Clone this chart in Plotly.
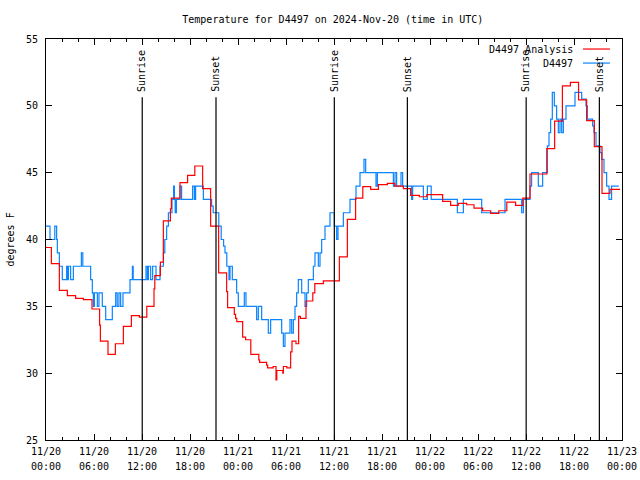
import plotly.graph_objects as go

# hours since 2024-11-20 00:00 UTC
red_hours = [0, 0.67, 1.67, 2.67, 3.7, 4.67, 5.75, 6.7, 6.8, 7.75, 8.67, 9.67, 10.67, 11.67, 12.6, 13.5, 13.6,
             14.3, 14.67, 15.55, 15.67, 16.75, 17.7, 18.6, 19.58, 20.58, 21.58, 22.58, 22.7, 23.54, 23.7, 23.85,
             24.58, 24.95, 25.6, 26.6, 26.7, 27.58, 27.7, 28.4, 28.75, 28.85, 29.6, 29.67, 30.1, 30.58, 30.75,
             31.25, 31.58, 31.8, 32.5, 33.35, 33.6, 34.67, 36.67, 37.67, 38.7, 39.6, 40.58, 41.55, 42.67, 43.6,
             44.67, 45.58, 46.67, 47.6, 49.58, 50.58, 51.54, 52.58, 53.5, 54.58, 55.58, 56.6, 57.6, 58.7, 59.6,
             60.5, 62.6, 63.58, 64.55, 65.55, 66.57, 67.58, 68.54, 69.5, 70.5, 71.75]
red_temps = [39.4, 38.2, 36.2, 35.8, 35.6, 35.5, 34.8, 33.6, 32.4, 31.4, 32.2, 33.5, 34.3, 34.2, 35.0, 36.3, 37.3,
             38.3, 41.4, 42.3, 43.1, 44.25, 44.8, 45.5, 43.8, 41.0, 37.5, 36.1, 34.9, 34.4, 34.1, 33.85,
             32.7, 32.5, 31.4, 31.0, 30.8, 30.6, 30.4, 30.5, 29.5, 30.2, 30.0, 30.5, 30.4, 31.6, 32.4,
             32.2, 34.25, 34.1, 35.4, 36.0, 36.7, 36.9, 38.7, 41.5, 43.1, 43.95, 43.75, 44.1, 44.2, 44.0,
             43.8, 43.3, 43.2, 43.35, 42.85, 42.55, 42.7, 42.6, 42.35, 42.15, 41.95, 42.15, 42.8, 42.55, 43.1,
             44.9, 46.8, 48.85, 51.5, 51.75, 50.45, 48.9, 46.95, 43.45, 43.75, 43.75]

blue_hours = [0, 0.5, 1.1, 1.33, 1.42, 1.67, 2.04, 2.58, 2.7, 2.8, 3.08, 3.42, 4.42, 4.6, 5.58, 5.79, 5.92, 6.05,
              6.42, 6.62, 7.04, 7.46, 8.29, 8.71, 8.9, 9.12, 9.33, 9.62, 10.5, 10.8, 10.9, 12.5, 12.67, 12.8,
              13.08, 13.33, 13.75, 14.25, 14.67, 14.85, 15.08, 15.3, 15.75, 15.95, 16.05, 16.15, 16.3, 16.75,
              16.95, 18.33, 18.55, 18.7, 19.67, 20.7, 20.9, 21.6, 21.9, 22.2, 22.375, 22.6, 22.875, 23.0, 23.29,
              23.83, 24.04, 24.79, 25.0, 26.33, 26.54, 26.96, 27.79, 28.08, 29.46, 29.67, 29.875, 30.5, 30.71,
              30.92, 31.125, 31.33, 31.54, 31.96, 32.375, 32.58, 32.79, 33.42, 33.625, 34.04, 34.25, 34.46,
              34.875, 35.5, 36.04, 36.33, 36.5, 37.17, 38.0, 38.75, 39.25, 39.75, 39.96, 41.25, 41.42, 43.42,
              43.625, 43.83, 44.375, 44.58, 45.71, 45.83, 47.17, 47.67, 48.15, 51.42, 52.17, 54.46, 57.375,
              59.46, 59.67, 60.5, 60.7, 61.54, 62.08, 62.67, 62.875, 63.08, 63.29, 63.54, 63.83, 64.04, 64.25,
              64.46, 64.67, 65.0, 66.125, 66.96, 67.5, 67.67, 68.33, 68.5, 68.75, 69.25, 69.46, 69.75, 70.08,
              70.375, 70.7, 71.6]
blue_temps = [41, 40, 41, 40, 39, 38, 37, 38, 37, 38, 37, 38, 39, 38, 37, 36, 35, 36,
              35, 36, 35, 34, 35, 36, 35, 36, 35, 36, 37, 38, 37, 38, 37, 38,
              37, 38, 37, 38, 39, 40, 41, 42, 43, 44, 43, 42, 43, 44,
              43, 44, 43, 44, 43, 42.5, 42, 41, 40, 39.5, 39, 38, 37, 38, 37,
              36, 35, 36, 35, 34, 35, 34, 33, 34, 33, 32, 33, 34, 33,
              34, 35, 36, 37, 36, 35, 36, 37, 38, 39, 38, 39, 40,
              41, 42, 41, 40, 41, 42, 43, 44, 45, 46, 45, 44, 45, 44,
              45, 44, 45, 44, 43, 44, 43, 44, 43, 42, 43, 42, 43,
              42, 43, 44, 45, 44, 45, 47, 48, 49, 51, 50, 49, 48, 49,
              48, 49, 50, 51, 50.5, 50, 49, 48.5, 48, 47, 46.5, 46, 45, 44,
              43, 44, 44]

sunrise_hours = [12.03, 36.04, 60.02]
sunset_hours = [21.25, 45.17, 69.17]

tick_hours = [0, 6, 12, 18, 24, 30, 36, 42, 48, 54, 60, 66, 72]
tick_dates = ["11/20", "11/20", "11/20", "11/20", "11/21", "11/21", "11/21", "11/21",
              "11/22", "11/22", "11/22", "11/22", "11/23"]
tick_times = ["00:00", "06:00", "12:00", "18:00", "00:00", "06:00", "12:00", "18:00",
              "00:00", "06:00", "12:00", "18:00", "00:00"]
y_ticks = [25, 30, 35, 40, 45, 50, 55]

FONT = "DejaVu Sans Mono"
RED = "#ff0000"
BLUE = "#0a84ff"

fig = go.Figure()
fig.add_trace(go.Scatter(x=red_hours, y=red_temps, mode="lines", line=dict(color=RED, width=1.2, shape="hv"),
                         name="D4497 Analysis", showlegend=False, xaxis="x2", yaxis="y"))
fig.add_trace(go.Scatter(x=blue_hours, y=blue_temps, mode="lines", line=dict(color=BLUE, width=1.2, shape="hv"),
                         name="D4497", showlegend=False))

line_top = 50.65
for h in sunrise_hours:
    fig.add_shape(type="line", x0=h, x1=h, y0=25, y1=line_top, xref="x", yref="y",
                  line=dict(color="black", width=1.2))
    fig.add_annotation(x=h, y=50.9, text="Sunrise", textangle=-90, showarrow=False,
                       xanchor="center", yanchor="bottom", font=dict(family=FONT, size=10, color="black"))
for h in sunset_hours:
    fig.add_shape(type="line", x0=h, x1=h, y0=25, y1=line_top, xref="x", yref="y",
                  line=dict(color="black", width=1.2))
    fig.add_annotation(x=h, y=50.9, text="Sunset", textangle=-90, showarrow=False,
                       xanchor="center", yanchor="bottom", font=dict(family=FONT, size=10, color="black"))

# legend (gnuplot style: text right aligned, sample on the right)
legend_items = [("D4497 Analysis", RED, 0.975), ("D4497", BLUE, 0.940)]
for text, col, yp in legend_items:
    fig.add_annotation(x=0.9184, y=yp, xref="paper", yref="paper", text=text, showarrow=False,
                       xanchor="right", yanchor="middle", font=dict(family=FONT, size=10, color="black"))
    fig.add_shape(type="line", x0=0.9323, x1=0.979, y0=yp, y1=yp, xref="paper", yref="paper",
                  line=dict(color=col, width=1.2))

fig.add_annotation(x=-0.0625, y=0.5, xref="paper", yref="paper", text="degrees F", textangle=-90,
                   showarrow=False, xanchor="center", yanchor="middle",
                   font=dict(family=FONT, size=10, color="black"))

fig.update_layout(
    width=640, height=480,
    margin=dict(l=46, r=18, t=39, b=40, autoexpand=False),
    paper_bgcolor="white", plot_bgcolor="white",
    title=dict(text="Temperature for D4497 on 2024-Nov-20 (time in UTC)", x=0.52, xanchor="center",
               xref="container", y=1 - 19 / 480, yanchor="middle",
               font=dict(family=FONT, size=10, color="black")),
    font=dict(family=FONT, size=10, color="black"),
    showlegend=False,
    xaxis=dict(range=[0, 72], tickmode="array", tickvals=tick_hours, ticktext=tick_dates,
               ticks="inside", ticklen=6, tickcolor="black", showline=True, linecolor="black", linewidth=1,
               mirror="ticks", showgrid=False, zeroline=False, automargin=False, ticklabelstandoff=2,
               minor=dict(dtick=2, tick0=0, ticks="inside", ticklen=3, tickcolor="black")),
    xaxis2=dict(range=[0, 72], overlaying="x", side="bottom", anchor="y", tickmode="array",
                tickvals=tick_hours, ticktext=tick_times, ticks="", showline=False, showgrid=False,
                zeroline=False, automargin=False, ticklabelstandoff=19),
    yaxis=dict(range=[25, 55], tickmode="array", tickvals=y_ticks,
               ticks="inside", ticklen=6, tickcolor="black", showline=True, linecolor="black", linewidth=1,
               mirror="ticks", showgrid=False, zeroline=False, automargin=False, ticklabelstandoff=5),
)

fig.write_html("out.html", config={"displayModeBar": False, "staticPlot": True},
               post_script="document.body.style.margin='0px';")
